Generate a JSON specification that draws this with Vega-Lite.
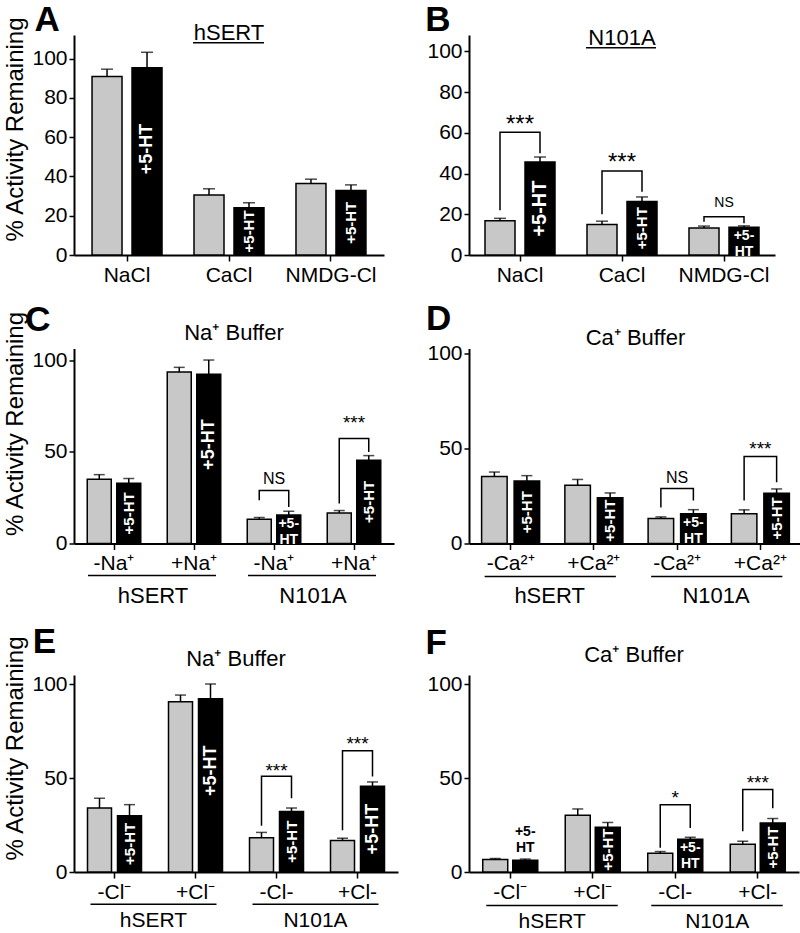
{
"$schema": "https://vega.github.io/schema/vega-lite/v6.json",
"padding": {"left": 3, "top": 3, "right": 0, "bottom": 0},
"config": {
  "view": {"stroke": null},
  "font": "Liberation Sans",
  "text": {"font": "Liberation Sans", "color": "black"},
  "axis": {"domainColor": "black", "domainWidth": 2, "tickColor": "black", "tickWidth": 1.5, "labelColor": "black", "labelFontSize": 21, "labelFont": "Liberation Sans", "grid": false, "titleColor": "black", "titleFontWeight": "normal", "titleFont": "Liberation Sans", "titleFontSize": 24},
  "axisX": {"labelAngle": 0, "tickSize": 6, "labelPadding": 3, "title": null},
  "axisY": {"tickSize": 5, "labelPadding": 2, "titlePadding": 4}
},
"datasets": {
  "bars": [
    {"p":"A","g":"NaCl","s":"ctrl","v":90.9,"e":94.6},
    {"p":"A","g":"NaCl","s":"ht","v":95.3,"e":103.2},
    {"p":"A","g":"CaCl","s":"ctrl","v":30.5,"e":33.7},
    {"p":"A","g":"CaCl","s":"ht","v":24.0,"e":26.6},
    {"p":"A","g":"NMDG-Cl","s":"ctrl","v":36.4,"e":38.6},
    {"p":"A","g":"NMDG-Cl","s":"ht","v":32.8,"e":35.7},
    {"p":"B","g":"NaCl","s":"ctrl","v":16.8,"e":18.0},
    {"p":"B","g":"NaCl","s":"ht","v":45.6,"e":48.1},
    {"p":"B","g":"CaCl","s":"ctrl","v":15.0,"e":16.6},
    {"p":"B","g":"CaCl","s":"ht","v":26.3,"e":28.5},
    {"p":"B","g":"NMDG-Cl","s":"ctrl","v":13.3,"e":14.2},
    {"p":"B","g":"NMDG-Cl","s":"ht","v":13.6,"e":14.3},
    {"p":"C","g":"hSERT|-Na⁺","s":"ctrl","v":35.1,"e":37.6},
    {"p":"C","g":"hSERT|-Na⁺","s":"ht","v":32.9,"e":35.5},
    {"p":"C","g":"hSERT|+Na⁺","s":"ctrl","v":93.6,"e":96.2},
    {"p":"C","g":"hSERT|+Na⁺","s":"ht","v":92.5,"e":100.2},
    {"p":"C","g":"N101A|-Na⁺","s":"ctrl","v":13.3,"e":14.2},
    {"p":"C","g":"N101A|-Na⁺","s":"ht","v":15.5,"e":17.6},
    {"p":"C","g":"N101A|+Na⁺","s":"ctrl","v":16.7,"e":18.0},
    {"p":"C","g":"N101A|+Na⁺","s":"ht","v":45.5,"e":48.0},
    {"p":"D","g":"hSERT|-Ca²⁺","s":"ctrl","v":35.3,"e":37.6},
    {"p":"D","g":"hSERT|-Ca²⁺","s":"ht","v":32.9,"e":35.7},
    {"p":"D","g":"hSERT|+Ca²⁺","s":"ctrl","v":30.6,"e":33.7},
    {"p":"D","g":"hSERT|+Ca²⁺","s":"ht","v":24.1,"e":26.6},
    {"p":"D","g":"N101A|-Ca²⁺","s":"ctrl","v":13.1,"e":14.0},
    {"p":"D","g":"N101A|-Ca²⁺","s":"ht","v":15.6,"e":17.8},
    {"p":"D","g":"N101A|+Ca²⁺","s":"ctrl","v":15.7,"e":17.7},
    {"p":"D","g":"N101A|+Ca²⁺","s":"ht","v":26.4,"e":28.7},
    {"p":"E","g":"hSERT|-Cl⁻","s":"ctrl","v":34.1,"e":39.3},
    {"p":"E","g":"hSERT|-Cl⁻","s":"ht","v":30.0,"e":35.9},
    {"p":"E","g":"hSERT|+Cl⁻","s":"ctrl","v":90.7,"e":94.3},
    {"p":"E","g":"hSERT|+Cl⁻","s":"ht","v":92.3,"e":100.2},
    {"p":"E","g":"N101A|-Cl-","s":"ctrl","v":18.2,"e":21.1},
    {"p":"E","g":"N101A|-Cl-","s":"ht","v":32.3,"e":34.1},
    {"p":"E","g":"N101A|+Cl-","s":"ctrl","v":16.8,"e":18.0},
    {"p":"E","g":"N101A|+Cl-","s":"ht","v":45.7,"e":48.0},
    {"p":"F","g":"hSERT|-Cl⁻","s":"ctrl","v":6.7,"e":7.2},
    {"p":"F","g":"hSERT|-Cl⁻","s":"ht","v":6.3,"e":6.9},
    {"p":"F","g":"hSERT|+Cl⁻","s":"ctrl","v":30.3,"e":33.6},
    {"p":"F","g":"hSERT|+Cl⁻","s":"ht","v":23.9,"e":26.4},
    {"p":"F","g":"N101A|-Cl-","s":"ctrl","v":10.0,"e":10.9},
    {"p":"F","g":"N101A|-Cl-","s":"ht","v":17.4,"e":18.5},
    {"p":"F","g":"N101A|+Cl-","s":"ctrl","v":14.8,"e":16.4},
    {"p":"F","g":"N101A|+Cl-","s":"ht","v":26.1,"e":28.5}
  ],
  "brk": [
    {"p":"B","g":"NaCl","s":"ctrl","y":22,"o":1},{"p":"B","g":"NaCl","s":"ctrl","y":60.3,"o":2},{"p":"B","g":"NaCl","s":"ht","y":60.3,"o":3},{"p":"B","g":"NaCl","s":"ht","y":50,"o":4},
    {"p":"B","g":"CaCl","s":"ctrl","y":20,"o":1},{"p":"B","g":"CaCl","s":"ctrl","y":41.2,"o":2},{"p":"B","g":"CaCl","s":"ht","y":41.2,"o":3},{"p":"B","g":"CaCl","s":"ht","y":31,"o":4},
    {"p":"B","g":"NMDG-Cl","s":"ctrl","y":16.3,"o":1},{"p":"B","g":"NMDG-Cl","s":"ctrl","y":18.8,"o":2},{"p":"B","g":"NMDG-Cl","s":"ht","y":18.8,"o":3},{"p":"B","g":"NMDG-Cl","s":"ht","y":15.6,"o":4},
    {"p":"C","g":"N101A|-Na⁺","s":"ctrl","y":23.6,"o":1},{"p":"C","g":"N101A|-Na⁺","s":"ctrl","y":29,"o":2},{"p":"C","g":"N101A|-Na⁺","s":"ht","y":29,"o":3},{"p":"C","g":"N101A|-Na⁺","s":"ht","y":20,"o":4},
    {"p":"C","g":"N101A|+Na⁺","s":"ctrl","y":21.8,"o":1},{"p":"C","g":"N101A|+Na⁺","s":"ctrl","y":57.3,"o":2},{"p":"C","g":"N101A|+Na⁺","s":"ht","y":57.3,"o":3},{"p":"C","g":"N101A|+Na⁺","s":"ht","y":50,"o":4},
    {"p":"D","g":"N101A|-Ca²⁺","s":"ctrl","y":18.9,"o":1},{"p":"D","g":"N101A|-Ca²⁺","s":"ctrl","y":28.9,"o":2},{"p":"D","g":"N101A|-Ca²⁺","s":"ht","y":28.9,"o":3},{"p":"D","g":"N101A|-Ca²⁺","s":"ht","y":22.6,"o":4},
    {"p":"D","g":"N101A|+Ca²⁺","s":"ctrl","y":22.6,"o":1},{"p":"D","g":"N101A|+Ca²⁺","s":"ctrl","y":45.8,"o":2},{"p":"D","g":"N101A|+Ca²⁺","s":"ht","y":45.8,"o":3},{"p":"D","g":"N101A|+Ca²⁺","s":"ht","y":32.2,"o":4},
    {"p":"E","g":"N101A|-Cl-","s":"ctrl","y":24.6,"o":1},{"p":"E","g":"N101A|-Cl-","s":"ctrl","y":51.1,"o":2},{"p":"E","g":"N101A|-Cl-","s":"ht","y":51.1,"o":3},{"p":"E","g":"N101A|-Cl-","s":"ht","y":39.3,"o":4},
    {"p":"E","g":"N101A|+Cl-","s":"ctrl","y":22.3,"o":1},{"p":"E","g":"N101A|+Cl-","s":"ctrl","y":64.6,"o":2},{"p":"E","g":"N101A|+Cl-","s":"ht","y":64.6,"o":3},{"p":"E","g":"N101A|+Cl-","s":"ht","y":50.9,"o":4},
    {"p":"F","g":"N101A|-Cl-","s":"ctrl","y":12.9,"o":1},{"p":"F","g":"N101A|-Cl-","s":"ctrl","y":35.9,"o":2},{"p":"F","g":"N101A|-Cl-","s":"ht","y":35.9,"o":3},{"p":"F","g":"N101A|-Cl-","s":"ht","y":23.4,"o":4},
    {"p":"F","g":"N101A|+Cl-","s":"ctrl","y":21.7,"o":1},{"p":"F","g":"N101A|+Cl-","s":"ctrl","y":44,"o":2},{"p":"F","g":"N101A|+Cl-","s":"ht","y":44,"o":3},{"p":"F","g":"N101A|+Cl-","s":"ht","y":34,"o":4}
  ],
  "sig": [
    {"p":"B","g":"NaCl","t":"***","y":60.3},
    {"p":"B","g":"CaCl","t":"***","y":41.5},
    {"p":"B","g":"NMDG-Cl","t":"NS","y":23.5},
    {"p":"C","g":"N101A|-Na⁺","t":"NS","y":32.7},
    {"p":"C","g":"N101A|+Na⁺","t":"***","y":62.6},
    {"p":"D","g":"N101A|-Ca²⁺","t":"NS","y":32},
    {"p":"D","g":"N101A|+Ca²⁺","t":"***","y":46.4},
    {"p":"E","g":"N101A|-Cl-","t":"***","y":50.5},
    {"p":"E","g":"N101A|+Cl-","t":"***","y":64.8},
    {"p":"F","g":"N101A|-Cl-","t":"*","y":36.3},
    {"p":"F","g":"N101A|+Cl-","t":"***","y":44.2}
  ],
  "geno": [
    {"p":"C","n":"hSERT","a":"hSERT|-Na⁺","b":"hSERT|+Na⁺"},
    {"p":"C","n":"N101A","a":"N101A|-Na⁺","b":"N101A|+Na⁺"},
    {"p":"D","n":"hSERT","a":"hSERT|-Ca²⁺","b":"hSERT|+Ca²⁺"},
    {"p":"D","n":"N101A","a":"N101A|-Ca²⁺","b":"N101A|+Ca²⁺"},
    {"p":"E","n":"hSERT","a":"hSERT|-Cl⁻","b":"hSERT|+Cl⁻"},
    {"p":"E","n":"N101A","a":"N101A|-Cl-","b":"N101A|+Cl-"},
    {"p":"F","n":"hSERT","a":"hSERT|-Cl⁻","b":"hSERT|+Cl⁻"},
    {"p":"F","n":"N101A","a":"N101A|-Cl-","b":"N101A|+Cl-"}
  ]
},
"resolve": {"scale": {"xOffset": "independent"}},
"spacing": 16.5,
"vconcat": [
{
 "hconcat": [
 {
  "width": 310, "height": 220,
  "layer": [
   {"data":{"name":"bars"},"transform":[{"filter":"datum.p==='A'"}],
    "mark":{"type":"bar","stroke":"black","strokeWidth":1.5},
    "encoding":{
     "x":{"field":"g","type":"nominal","scale":{"domain":["NaCl","CaCl","NMDG-Cl"],"paddingInner":0,"paddingOuter":0.02},"axis":{"title":null}},
     "xOffset":{"field":"s","type":"nominal","scale":{"domain":["ctrl","ht"],"paddingInner":0.25,"paddingOuter":0.4}},
     "y":{"field":"v","type":"quantitative","scale":{"domain":[0,112],"nice":false},"axis":{"values":[0,20,40,60,80,100],"title":"% Activity Remaining","titleY":94}},
     "fill":{"field":"s","type":"nominal","scale":{"domain":["ctrl","ht"],"range":["#c8c8c8","#000000"]},"legend":null}}},
   {"data":{"name":"bars"},"transform":[{"filter":"datum.p==='A'"}],
    "mark":{"type":"rule","color":"black","strokeWidth":1.5},
    "encoding":{"x":{"field":"g","type":"nominal"},"xOffset":{"field":"s","type":"nominal"},"y":{"field":"v","type":"quantitative"},"y2":{"field":"e"}}},
   {"data":{"name":"bars"},"transform":[{"filter":"datum.p==='A'"}],
    "mark":{"type":"tick","color":"black","thickness":1.5,"size":12,"orient":"horizontal"},
    "encoding":{"x":{"field":"g","type":"nominal"},"xOffset":{"field":"s","type":"nominal"},"y":{"field":"e","type":"quantitative"}}},
   {"data":{"name":"bars"},"transform":[{"filter":"datum.p==='A' && datum.s==='ht' && datum.v>=20"},{"calculate":"datum.v > 60 ? 54 : datum.v*0.5","as":"ly"}],
    "mark":{"type":"text","text":"+5-HT","angle":270,"fontWeight":"bold","color":"white","align":"center","baseline":"middle"},
    "encoding":{"x":{"field":"g","type":"nominal"},"xOffset":{"field":"s","type":"nominal"},"y":{"field":"ly","type":"quantitative"},"size":{"condition":{"test":"datum.v>60","value":18},"value":15}}},
   {"data":{"values":[{}]},"mark":{"type":"text","text":"A","fontSize":35,"fontWeight":"bold","align":"center","baseline":"middle","xOffset":-80},
    "encoding":{"x":{"datum":"NaCl","type":"nominal"},"y":{"datum":119.6,"type":"quantitative"}}},
   {"data":{"values":[{}]},"mark":{"type":"text","text":"hSERT","fontSize":22,"align":"center","baseline":"middle"},
    "encoding":{"x":{"datum":"CaCl","type":"nominal"},"y":{"datum":113,"type":"quantitative"}}},
   {"data":{"values":[{}]},"mark":{"type":"rule","color":"black","strokeWidth":1.5,"xOffset":-36,"x2Offset":35},
    "encoding":{"x":{"datum":"CaCl","type":"nominal"},"x2":{"datum":"CaCl"},"y":{"datum":108,"type":"quantitative"}}}
  ]
 },
 {
  "width": 306, "height": 220,
  "layer": [
   {"data":{"name":"bars"},"transform":[{"filter":"datum.p==='B'"}],
    "mark":{"type":"bar","stroke":"black","strokeWidth":1.5},
    "encoding":{
     "x":{"field":"g","type":"nominal","scale":{"domain":["NaCl","CaCl","NMDG-Cl"],"paddingInner":0,"paddingOuter":0},"axis":{"title":null}},
     "xOffset":{"field":"s","type":"nominal","scale":{"domain":["ctrl","ht"],"paddingInner":0.25,"paddingOuter":0.4}},
     "y":{"field":"v","type":"quantitative","scale":{"domain":[0,108],"nice":false},"axis":{"values":[0,20,40,60,80,100],"title":null}},
     "fill":{"field":"s","type":"nominal","scale":{"domain":["ctrl","ht"],"range":["#c8c8c8","#000000"]},"legend":null}}},
   {"data":{"name":"bars"},"transform":[{"filter":"datum.p==='B'"}],
    "mark":{"type":"rule","color":"black","strokeWidth":1.5},
    "encoding":{"x":{"field":"g","type":"nominal"},"xOffset":{"field":"s","type":"nominal"},"y":{"field":"v","type":"quantitative"},"y2":{"field":"e"}}},
   {"data":{"name":"bars"},"transform":[{"filter":"datum.p==='B'"}],
    "mark":{"type":"tick","color":"black","thickness":1.5,"size":12,"orient":"horizontal"},
    "encoding":{"x":{"field":"g","type":"nominal"},"xOffset":{"field":"s","type":"nominal"},"y":{"field":"e","type":"quantitative"}}},
   {"data":{"name":"bars"},"transform":[{"filter":"datum.p==='B' && datum.s==='ht' && datum.v>=20"},{"calculate":"datum.v > 60 ? 54 : datum.v*0.5","as":"ly"}],
    "mark":{"type":"text","text":"+5-HT","angle":270,"fontWeight":"bold","color":"white","align":"center","baseline":"middle"},
    "encoding":{"x":{"field":"g","type":"nominal"},"xOffset":{"field":"s","type":"nominal"},"y":{"field":"ly","type":"quantitative"},"size":{"condition":{"test":"datum.v>40","value":20},"value":15}}},
   {"data":{"name":"bars"},"transform":[{"filter":"datum.p==='B' && datum.s==='ht' && datum.v<20"}],
    "mark":{"type":"text","text":"+5-\nHT","lineBreak":"\n","lineHeight":16,"fontSize":14,"fontWeight":"bold","color":"white","align":"center","baseline":"top","dy":2},
    "encoding":{"x":{"field":"g","type":"nominal"},"xOffset":{"field":"s","type":"nominal"},"y":{"field":"v","type":"quantitative"}}},
   {"data":{"name":"brk"},"transform":[{"filter":"datum.p==='B'"}],
    "mark":{"type":"line","color":"black","strokeWidth":1.5},
    "encoding":{"x":{"field":"g","type":"nominal"},"xOffset":{"field":"s","type":"nominal"},"y":{"field":"y","type":"quantitative"},"order":{"field":"o"},"detail":{"field":"g"}}},
   {"data":{"name":"sig"},"transform":[{"filter":"datum.p==='B'"}],
    "mark":{"type":"text","align":"center","baseline":"alphabetic"},
    "encoding":{"x":{"field":"g","type":"nominal"},"y":{"field":"y","type":"quantitative"},"text":{"field":"t"},"size":{"condition":{"test":"datum.t==='NS'","value":14},"value":24}}},
   {"data":{"values":[{}]},"mark":{"type":"text","text":"B","fontSize":35,"fontWeight":"bold","align":"center","baseline":"middle","xOffset":-82},
    "encoding":{"x":{"datum":"NaCl","type":"nominal"},"y":{"datum":115.2,"type":"quantitative"}}},
   {"data":{"values":[{}]},"mark":{"type":"text","text":"N101A","fontSize":22,"align":"center","baseline":"middle"},
    "encoding":{"x":{"datum":"CaCl","type":"nominal"},"y":{"datum":106.6,"type":"quantitative"}}},
   {"data":{"values":[{}]},"mark":{"type":"rule","color":"black","strokeWidth":1.5,"xOffset":-36,"x2Offset":34},
    "encoding":{"x":{"datum":"CaCl","type":"nominal"},"x2":{"datum":"CaCl"},"y":{"datum":101.7,"type":"quantitative"}}}
  ]
 }
 ],
 "spacing": 85, "bounds": "flush",
 "resolve": {"scale": {"xOffset": "independent"}}
},
{
 "hconcat": [
 {
  "width": 320, "height": 195,
  "layer": [
   {"data":{"name":"bars"},"transform":[{"filter":"datum.p==='C'"}],
    "mark":{"type":"bar","stroke":"black","strokeWidth":1.5},
    "encoding":{
     "x":{"field":"g","type":"nominal","scale":{"domain":["hSERT|-Na⁺","hSERT|+Na⁺","N101A|-Na⁺","N101A|+Na⁺"],"paddingInner":0,"paddingOuter":0},"axis":{"title":null,"labelExpr":"split(datum.label,'|')[1]"}},
     "xOffset":{"field":"s","type":"nominal","scale":{"domain":["ctrl","ht"],"paddingInner":0.186,"paddingOuter":0.449}},
     "y":{"field":"v","type":"quantitative","scale":{"domain":[0,106.5],"nice":false},"axis":{"values":[0,50,100],"title":"% Activity Remaining","titleY":75}},
     "fill":{"field":"s","type":"nominal","scale":{"domain":["ctrl","ht"],"range":["#c8c8c8","#000000"]},"legend":null}}},
   {"data":{"name":"bars"},"transform":[{"filter":"datum.p==='C'"}],
    "mark":{"type":"rule","color":"black","strokeWidth":1.5},
    "encoding":{"x":{"field":"g","type":"nominal"},"xOffset":{"field":"s","type":"nominal"},"y":{"field":"v","type":"quantitative"},"y2":{"field":"e"}}},
   {"data":{"name":"bars"},"transform":[{"filter":"datum.p==='C'"}],
    "mark":{"type":"tick","color":"black","thickness":1.5,"size":11,"orient":"horizontal"},
    "encoding":{"x":{"field":"g","type":"nominal"},"xOffset":{"field":"s","type":"nominal"},"y":{"field":"e","type":"quantitative"}}},
   {"data":{"name":"bars"},"transform":[{"filter":"datum.p==='C' && datum.s==='ht' && datum.v>=20"},{"calculate":"datum.v > 60 ? 54 : datum.v*0.5","as":"ly"}],
    "mark":{"type":"text","text":"+5-HT","angle":270,"fontWeight":"bold","color":"white","align":"center","baseline":"middle"},
    "encoding":{"x":{"field":"g","type":"nominal"},"xOffset":{"field":"s","type":"nominal"},"y":{"field":"ly","type":"quantitative"},"size":{"condition":{"test":"datum.v>60","value":18},"value":15}}},
   {"data":{"name":"bars"},"transform":[{"filter":"datum.p==='C' && datum.s==='ht' && datum.v<20"}],
    "mark":{"type":"text","text":"+5-\nHT","lineBreak":"\n","lineHeight":16,"fontSize":14,"fontWeight":"bold","color":"white","align":"center","baseline":"top","dy":2},
    "encoding":{"x":{"field":"g","type":"nominal"},"xOffset":{"field":"s","type":"nominal"},"y":{"field":"v","type":"quantitative"}}},
   {"data":{"name":"brk"},"transform":[{"filter":"datum.p==='C'"}],
    "mark":{"type":"line","color":"black","strokeWidth":1.5},
    "encoding":{"x":{"field":"g","type":"nominal"},"xOffset":{"field":"s","type":"nominal"},"y":{"field":"y","type":"quantitative"},"order":{"field":"o"},"detail":{"field":"g"}}},
   {"data":{"name":"sig"},"transform":[{"filter":"datum.p==='C'"}],
    "mark":{"type":"text","align":"center","baseline":"alphabetic"},
    "encoding":{"x":{"field":"g","type":"nominal"},"y":{"field":"y","type":"quantitative"},"text":{"field":"t"},"size":{"condition":{"test":"datum.t==='NS'","value":16},"value":19}}},
   {"data":{"name":"geno"},"transform":[{"filter":"datum.p==='C'"}],
    "mark":{"type":"rule","color":"black","strokeWidth":1.5,"xOffset":-26,"x2Offset":22},
    "encoding":{"x":{"field":"a","type":"nominal"},"x2":{"field":"b"},"y":{"datum":-17.5,"type":"quantitative"}}},
   {"data":{"name":"geno"},"transform":[{"filter":"datum.p==='C'"}],
    "mark":{"type":"text","fontSize":22,"align":"center","baseline":"middle","xOffset":39},
    "encoding":{"x":{"field":"a","type":"nominal"},"y":{"datum":-28.4,"type":"quantitative"},"text":{"field":"n"}}},
   {"data":{"values":[{}]},"mark":{"type":"text","text":"C","fontSize":35,"fontWeight":"bold","align":"center","baseline":"middle","xOffset":-76},
    "encoding":{"x":{"datum":"hSERT|-Na⁺","type":"nominal"},"y":{"datum":122.1,"type":"quantitative"}}},
   {"data":{"values":[{}]},"mark":{"type":"text","text":"Na⁺ Buffer","fontSize":22,"align":"center","baseline":"middle","xOffset":40},
    "encoding":{"x":{"datum":"hSERT|+Na⁺","type":"nominal"},"y":{"datum":114.7,"type":"quantitative"}}}
  ]
 },
 {
  "width": 333, "height": 195,
  "layer": [
   {"data":{"name":"bars"},"transform":[{"filter":"datum.p==='D'"}],
    "mark":{"type":"bar","stroke":"black","strokeWidth":1.5},
    "encoding":{
     "x":{"field":"g","type":"nominal","scale":{"domain":["hSERT|-Ca²⁺","hSERT|+Ca²⁺","N101A|-Ca²⁺","N101A|+Ca²⁺"],"paddingInner":0,"paddingOuter":0},"axis":{"title":null,"labelExpr":"split(datum.label,'|')[1]"}},
     "xOffset":{"field":"s","type":"nominal","scale":{"domain":["ctrl","ht"],"paddingInner":0.215,"paddingOuter":0.388}},
     "y":{"field":"v","type":"quantitative","scale":{"domain":[0,102.6],"nice":false},"axis":{"values":[0,50,100],"title":null}},
     "fill":{"field":"s","type":"nominal","scale":{"domain":["ctrl","ht"],"range":["#c8c8c8","#000000"]},"legend":null}}},
   {"data":{"name":"bars"},"transform":[{"filter":"datum.p==='D'"}],
    "mark":{"type":"rule","color":"black","strokeWidth":1.5},
    "encoding":{"x":{"field":"g","type":"nominal"},"xOffset":{"field":"s","type":"nominal"},"y":{"field":"v","type":"quantitative"},"y2":{"field":"e"}}},
   {"data":{"name":"bars"},"transform":[{"filter":"datum.p==='D'"}],
    "mark":{"type":"tick","color":"black","thickness":1.5,"size":11,"orient":"horizontal"},
    "encoding":{"x":{"field":"g","type":"nominal"},"xOffset":{"field":"s","type":"nominal"},"y":{"field":"e","type":"quantitative"}}},
   {"data":{"name":"bars"},"transform":[{"filter":"datum.p==='D' && datum.s==='ht' && datum.v>=20"},{"calculate":"datum.v > 60 ? 54 : datum.v*0.5","as":"ly"}],
    "mark":{"type":"text","text":"+5-HT","angle":270,"fontWeight":"bold","color":"white","align":"center","baseline":"middle"},
    "encoding":{"x":{"field":"g","type":"nominal"},"xOffset":{"field":"s","type":"nominal"},"y":{"field":"ly","type":"quantitative"},"size":{"condition":{"test":"datum.v>60","value":18},"value":15}}},
   {"data":{"name":"bars"},"transform":[{"filter":"datum.p==='D' && datum.s==='ht' && datum.v<20"}],
    "mark":{"type":"text","text":"+5-\nHT","lineBreak":"\n","lineHeight":16,"fontSize":14,"fontWeight":"bold","color":"white","align":"center","baseline":"top","dy":2},
    "encoding":{"x":{"field":"g","type":"nominal"},"xOffset":{"field":"s","type":"nominal"},"y":{"field":"v","type":"quantitative"}}},
   {"data":{"name":"brk"},"transform":[{"filter":"datum.p==='D'"}],
    "mark":{"type":"line","color":"black","strokeWidth":1.5},
    "encoding":{"x":{"field":"g","type":"nominal"},"xOffset":{"field":"s","type":"nominal"},"y":{"field":"y","type":"quantitative"},"order":{"field":"o"},"detail":{"field":"g"}}},
   {"data":{"name":"sig"},"transform":[{"filter":"datum.p==='D'"}],
    "mark":{"type":"text","align":"center","baseline":"alphabetic"},
    "encoding":{"x":{"field":"g","type":"nominal"},"y":{"field":"y","type":"quantitative"},"text":{"field":"t"},"size":{"condition":{"test":"datum.t==='NS'","value":16},"value":19}}},
   {"data":{"name":"geno"},"transform":[{"filter":"datum.p==='D'"}],
    "mark":{"type":"rule","color":"black","strokeWidth":1.5,"xOffset":-26,"x2Offset":22},
    "encoding":{"x":{"field":"a","type":"nominal"},"x2":{"field":"b"},"y":{"datum":-17.4,"type":"quantitative"}}},
   {"data":{"name":"geno"},"transform":[{"filter":"datum.p==='D'"}],
    "mark":{"type":"text","fontSize":22,"align":"center","baseline":"middle","xOffset":39},
    "encoding":{"x":{"field":"a","type":"nominal"},"y":{"datum":-27.4,"type":"quantitative"},"text":{"field":"n"}}},
   {"data":{"values":[{}]},"mark":{"type":"text","text":"D","fontSize":35,"fontWeight":"bold","align":"center","baseline":"middle","xOffset":-72},
    "encoding":{"x":{"datum":"hSERT|-Ca²⁺","type":"nominal"},"y":{"datum":118.1,"type":"quantitative"}}},
   {"data":{"values":[{}]},"mark":{"type":"text","text":"Ca⁺ Buffer","fontSize":22,"align":"center","baseline":"middle","xOffset":41.6},
    "encoding":{"x":{"datum":"hSERT|+Ca²⁺","type":"nominal"},"y":{"datum":107.9,"type":"quantitative"}}}
  ]
 }
 ],
 "spacing": 75, "bounds": "flush",
 "resolve": {"scale": {"xOffset": "independent"}}
},
{
 "hconcat": [
 {
  "width": 324, "height": 197,
  "layer": [
   {"data":{"name":"bars"},"transform":[{"filter":"datum.p==='E'"}],
    "mark":{"type":"bar","stroke":"black","strokeWidth":1.5},
    "encoding":{
     "x":{"field":"g","type":"nominal","scale":{"domain":["hSERT|-Cl⁻","hSERT|+Cl⁻","N101A|-Cl-","N101A|+Cl-"],"paddingInner":0,"paddingOuter":0},"axis":{"title":null,"labelExpr":"split(datum.label,'|')[1]"}},
     "xOffset":{"field":"s","type":"nominal","scale":{"domain":["ctrl","ht"],"paddingInner":0.2,"paddingOuter":0.45}},
     "y":{"field":"v","type":"quantitative","scale":{"domain":[0,105],"nice":false},"axis":{"values":[0,50,100],"title":"% Activity Remaining","titleY":73}},
     "fill":{"field":"s","type":"nominal","scale":{"domain":["ctrl","ht"],"range":["#c8c8c8","#000000"]},"legend":null}}},
   {"data":{"name":"bars"},"transform":[{"filter":"datum.p==='E'"}],
    "mark":{"type":"rule","color":"black","strokeWidth":1.5},
    "encoding":{"x":{"field":"g","type":"nominal"},"xOffset":{"field":"s","type":"nominal"},"y":{"field":"v","type":"quantitative"},"y2":{"field":"e"}}},
   {"data":{"name":"bars"},"transform":[{"filter":"datum.p==='E'"}],
    "mark":{"type":"tick","color":"black","thickness":1.5,"size":11,"orient":"horizontal"},
    "encoding":{"x":{"field":"g","type":"nominal"},"xOffset":{"field":"s","type":"nominal"},"y":{"field":"e","type":"quantitative"}}},
   {"data":{"name":"bars"},"transform":[{"filter":"datum.p==='E' && datum.s==='ht' && datum.v>=20"},{"calculate":"datum.v > 60 ? 54 : datum.v*0.5","as":"ly"}],
    "mark":{"type":"text","text":"+5-HT","angle":270,"fontWeight":"bold","color":"white","align":"center","baseline":"middle"},
    "encoding":{"x":{"field":"g","type":"nominal"},"xOffset":{"field":"s","type":"nominal"},"y":{"field":"ly","type":"quantitative"},"size":{"condition":{"test":"datum.v>40","value":18},"value":15}}},
   {"data":{"name":"brk"},"transform":[{"filter":"datum.p==='E'"}],
    "mark":{"type":"line","color":"black","strokeWidth":1.5},
    "encoding":{"x":{"field":"g","type":"nominal"},"xOffset":{"field":"s","type":"nominal"},"y":{"field":"y","type":"quantitative"},"order":{"field":"o"},"detail":{"field":"g"}}},
   {"data":{"name":"sig"},"transform":[{"filter":"datum.p==='E'"}],
    "mark":{"type":"text","align":"center","baseline":"alphabetic"},
    "encoding":{"x":{"field":"g","type":"nominal"},"y":{"field":"y","type":"quantitative"},"text":{"field":"t"},"size":{"condition":{"test":"datum.t==='NS'","value":16},"value":19}}},
   {"data":{"name":"geno"},"transform":[{"filter":"datum.p==='E'"}],
    "mark":{"type":"rule","color":"black","strokeWidth":1.5,"xOffset":-24,"x2Offset":21},
    "encoding":{"x":{"field":"a","type":"nominal"},"x2":{"field":"b"},"y":{"datum":-17.2,"type":"quantitative"}}},
   {"data":{"name":"geno"},"transform":[{"filter":"datum.p==='E'"}],
    "mark":{"type":"text","fontSize":21,"align":"center","baseline":"middle","xOffset":39},
    "encoding":{"x":{"field":"a","type":"nominal"},"y":{"datum":-26.3,"type":"quantitative"},"text":{"field":"n"}}},
   {"data":{"values":[{}]},"mark":{"type":"text","text":"E","fontSize":35,"fontWeight":"bold","align":"center","baseline":"middle","xOffset":-70},
    "encoding":{"x":{"datum":"hSERT|-Cl⁻","type":"nominal"},"y":{"datum":122.6,"type":"quantitative"}}},
   {"data":{"values":[{}]},"mark":{"type":"text","text":"Na⁺ Buffer","fontSize":22,"align":"center","baseline":"middle","xOffset":40.5},
    "encoding":{"x":{"datum":"hSERT|+Cl⁻","type":"nominal"},"y":{"datum":113.5,"type":"quantitative"}}}
  ]
 },
 {
  "width": 330, "height": 197,
  "layer": [
   {"data":{"name":"bars"},"transform":[{"filter":"datum.p==='F'"}],
    "mark":{"type":"bar","stroke":"black","strokeWidth":1.5},
    "encoding":{
     "x":{"field":"g","type":"nominal","scale":{"domain":["hSERT|-Cl⁻","hSERT|+Cl⁻","N101A|-Cl-","N101A|+Cl-"],"paddingInner":0,"paddingOuter":0},"axis":{"title":null,"labelExpr":"split(datum.label,'|')[1]"}},
     "xOffset":{"field":"s","type":"nominal","scale":{"domain":["ctrl","ht"],"paddingInner":0.167,"paddingOuter":0.458}},
     "y":{"field":"v","type":"quantitative","scale":{"domain":[0,105],"nice":false},"axis":{"values":[0,50,100],"title":null}},
     "fill":{"field":"s","type":"nominal","scale":{"domain":["ctrl","ht"],"range":["#c8c8c8","#000000"]},"legend":null}}},
   {"data":{"name":"bars"},"transform":[{"filter":"datum.p==='F'"}],
    "mark":{"type":"rule","color":"black","strokeWidth":1.5},
    "encoding":{"x":{"field":"g","type":"nominal"},"xOffset":{"field":"s","type":"nominal"},"y":{"field":"v","type":"quantitative"},"y2":{"field":"e"}}},
   {"data":{"name":"bars"},"transform":[{"filter":"datum.p==='F'"}],
    "mark":{"type":"tick","color":"black","thickness":1.5,"size":11,"orient":"horizontal"},
    "encoding":{"x":{"field":"g","type":"nominal"},"xOffset":{"field":"s","type":"nominal"},"y":{"field":"e","type":"quantitative"}}},
   {"data":{"name":"bars"},"transform":[{"filter":"datum.p==='F' && datum.s==='ht' && datum.v>=20"},{"calculate":"datum.v > 60 ? 54 : datum.v*0.5","as":"ly"}],
    "mark":{"type":"text","text":"+5-HT","angle":270,"fontWeight":"bold","color":"white","align":"center","baseline":"middle"},
    "encoding":{"x":{"field":"g","type":"nominal"},"xOffset":{"field":"s","type":"nominal"},"y":{"field":"ly","type":"quantitative"},"size":{"value":15}}},
   {"data":{"name":"bars"},"transform":[{"filter":"datum.p==='F' && datum.s==='ht' && datum.v<20 && datum.v>=8"}],
    "mark":{"type":"text","text":"+5-\nHT","lineBreak":"\n","lineHeight":16,"fontSize":14,"fontWeight":"bold","color":"white","align":"center","baseline":"top","dy":2},
    "encoding":{"x":{"field":"g","type":"nominal"},"xOffset":{"field":"s","type":"nominal"},"y":{"field":"v","type":"quantitative"}}},
   {"data":{"name":"bars"},"transform":[{"filter":"datum.p==='F' && datum.s==='ht' && datum.v<8"}],
    "mark":{"type":"text","text":"+5-\nHT","lineBreak":"\n","lineHeight":16,"fontSize":14,"fontWeight":"bold","color":"black","align":"center","baseline":"top","dy":-35},
    "encoding":{"x":{"field":"g","type":"nominal"},"xOffset":{"field":"s","type":"nominal"},"y":{"field":"v","type":"quantitative"}}},
   {"data":{"name":"brk"},"transform":[{"filter":"datum.p==='F'"}],
    "mark":{"type":"line","color":"black","strokeWidth":1.5},
    "encoding":{"x":{"field":"g","type":"nominal"},"xOffset":{"field":"s","type":"nominal"},"y":{"field":"y","type":"quantitative"},"order":{"field":"o"},"detail":{"field":"g"}}},
   {"data":{"name":"sig"},"transform":[{"filter":"datum.p==='F'"}],
    "mark":{"type":"text","align":"center","baseline":"alphabetic"},
    "encoding":{"x":{"field":"g","type":"nominal"},"y":{"field":"y","type":"quantitative"},"text":{"field":"t"},"size":{"value":19}}},
   {"data":{"name":"geno"},"transform":[{"filter":"datum.p==='F'"}],
    "mark":{"type":"rule","color":"black","strokeWidth":1.5,"xOffset":-24,"x2Offset":25},
    "encoding":{"x":{"field":"a","type":"nominal"},"x2":{"field":"b"},"y":{"datum":-17.8,"type":"quantitative"}}},
   {"data":{"name":"geno"},"transform":[{"filter":"datum.p==='F'"}],
    "mark":{"type":"text","fontSize":21,"align":"center","baseline":"middle","xOffset":42},
    "encoding":{"x":{"field":"a","type":"nominal"},"y":{"datum":-26.5,"type":"quantitative"},"text":{"field":"n"}}},
   {"data":{"values":[{}]},"mark":{"type":"text","text":"F","fontSize":35,"fontWeight":"bold","align":"center","baseline":"middle","xOffset":-74},
    "encoding":{"x":{"datum":"hSERT|-Cl⁻","type":"nominal"},"y":{"datum":122,"type":"quantitative"}}},
   {"data":{"values":[{}]},"mark":{"type":"text","text":"Ca⁺ Buffer","fontSize":22,"align":"center","baseline":"middle","xOffset":41.25},
    "encoding":{"x":{"datum":"hSERT|+Cl⁻","type":"nominal"},"y":{"datum":115.7,"type":"quantitative"}}}
  ]
 }
 ],
 "spacing": 71, "bounds": "flush",
 "resolve": {"scale": {"xOffset": "independent"}}
}
]
}
